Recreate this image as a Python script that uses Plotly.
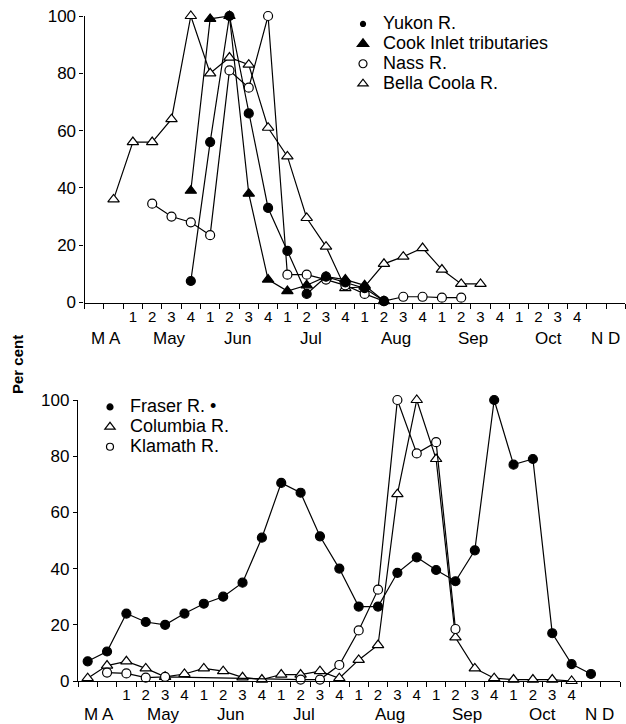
import plotly.graph_objects as go

# weekly bins: Mar, Apr, May 1-4 ... Oct 1-4, Nov, Dec
WEEKS = ["Mar", "Apr"] + [f"{m}{w}" for m in ["May", "Jun", "Jul", "Aug", "Sep", "Oct"] for w in (1, 2, 3, 4)] + ["Nov", "Dec"]
WEEK_TICKS = ["", ""] + ["1", "2", "3", "4"] * 6 + ["", ""]
MONTHS = ["M A", "May", "Jun", "Jul", "Aug", "Sep", "Oct", "N D"]
N = None

# upper panel (per cent of peak weekly catch)
yukon = [N, N, N, N, N, 7.5, 56, 100, 66, 33, 18, 3, 9, 7, 5, 0.5, N, N, N, N, N, N, N, N, N, N, N, N]
cook = [N, N, N, N, N, 39, 99, 100, 38, 8, 4, 6, 9, 8, 6, 0.5, N, N, N, N, N, N, N, N, N, N, N, N]
nass = [N, N, N, 34.5, 30, 28, 23.5, 81, 75, 100, 9.7, 9.7, 8, 6, 3, 0.5, 2, 2, 1.7, 1.7, N, N, N, N, N, N, N, N]
bella = [N, 36, 56, 56, 64, 100, 80, 85.5, 83, 61, 51, 29.5, 19.5, 5, 5.5, 13.5, 16, 19, 11.5, 6.5, 6.5, N, N, N, N, N, N, N]

# lower panel
fraser = [7, 10.5, 24, 21, 20, 24, 27.5, 30, 35, 51, 70.5, 67, 51.5, 40, 26.5, 26.5, 38.5, 44, 39.5, 35.5, 46.5, 100, 77, 79, 17, 6, 2.5, N]
columbia = [1, 5.5, 7, 4.5, 1.5, 2.5, 4.5, 3.5, 1.3, 0.5, 2.3, 2.3, 3.5, 1, 7.5, 12.8, 66.5, 100, 79, 15.5, 4.5, 1, 0.5, 0.5, 0.5, 0, N, N]
klamath = [N, 3, 2.7, 1.2, 1.5, N, N, N, N, N, N, 0.5, 0.5, 5.7, 18, 32.5, 100, 81, 85, 18.5, N, N, N, N, N, N, N, N]

centers = [i + 0.5 for i in range(len(WEEKS))]
month_pos = [1.1, 4.4, 7.9, 11.7, 16.1, 20.1, 24.0, 26.95]

FONT = "Liberation Sans, Arial, sans-serif"
W, H = 626, 724

fig = go.Figure()


def add_series(vals, symbol, fill, size, name, rank, xa, ya, leg, leg_size):
    fig.add_trace(go.Scatter(
        x=centers, y=vals, mode="lines+markers", connectgaps=True,
        line=dict(color="black", width=1.2),
        marker=dict(symbol=symbol, size=size, color=fill, line=dict(color="black", width=1.2)),
        xaxis=xa, yaxis=ya, showlegend=False, cliponaxis=False, hoverinfo="skip",
    ))
    # legend key: marker only; big text on a tight row pitch
    fig.add_trace(go.Scatter(
        x=[None], y=[None], mode="markers", legend=leg, legendrank=rank,
        name=f"<span style='font-size:18px'>{name}</span>",
        marker=dict(symbol=symbol, size=leg_size, color=fill, line=dict(color="black", width=1.2)),
        xaxis=xa, yaxis=ya,
    ))


# draw order so that filled markers sit on top
add_series(bella, "triangle-up", "white", 10, "Bella Coola R.", 4, "x", "y", "legend", 9)
add_series(nass, "circle", "white", 9, "Nass R.", 3, "x", "y", "legend", 8)
add_series(cook, "triangle-up", "black", 10, "Cook Inlet tributaries", 2, "x", "y", "legend", 10)
add_series(yukon, "circle", "black", 9, "Yukon R.", 1, "x", "y", "legend", 5)

add_series(columbia, "triangle-up", "white", 10, "Columbia R.", 2, "x2", "y2", "legend2", 9)
add_series(klamath, "circle", "white", 9, "Klamath R.", 3, "x2", "y2", "legend2", 7)
add_series(fraser, "circle", "black", 9, "Fraser R. •", 1, "x2", "y2", "legend2", 6)


def xaxis(domain, anchor):
    return dict(
        domain=domain, anchor=anchor, range=[0, 28], showgrid=False, zeroline=False,
        showline=True, linecolor="black", linewidth=1.3,
        tickmode="array", tickvals=centers, ticktext=WEEK_TICKS, ticks="",
        tickfont=dict(size=15, color="black", family=FONT),
        minor=dict(tickmode="array", tickvals=list(range(29)), ticks="outside",
                   ticklen=5, tickwidth=1.2, tickcolor="black"),
    )


def yaxis(domain, anchor):
    return dict(
        domain=domain, anchor=anchor, range=[0, 100], showgrid=False, zeroline=False,
        showline=True, linecolor="black", linewidth=1.3,
        tickvals=[0, 20, 40, 60, 80, 100], ticks="outside", ticklen=4, tickwidth=1.2,
        tickcolor="black", tickfont=dict(size=17, color="black", family=FONT),
    )


fig.update_layout(
    width=W, height=H,
    margin=dict(l=0, r=0, t=0, b=0, autoexpand=False),
    plot_bgcolor="white", paper_bgcolor="white",
    font=dict(family=FONT, color="black"),
    hovermode=False,
    xaxis=xaxis([84.6 / W, 0.999], "y"),
    yaxis=yaxis([1 - 302.5 / H, 1 - 16 / H], "x"),
    xaxis2=xaxis([78 / W, 620 / W], "y2"),
    yaxis2=yaxis([1 - 681 / H, 1 - 400 / H], "x2"),
    legend=dict(x=343 / W, y=1 - 9 / H, xanchor="left", yanchor="top", traceorder="normal",
                bgcolor="rgba(0,0,0,0)", font=dict(size=13, family=FONT), tracegroupgap=0),
    legend2=dict(x=90 / W, y=1 - 392 / H, xanchor="left", yanchor="top", traceorder="normal",
                 bgcolor="rgba(0,0,0,0)", font=dict(size=13, family=FONT), tracegroupgap=0),
)

# month names under the week numbers
for pos, label in zip(month_pos, MONTHS):
    fig.add_annotation(x=pos, y=1 - 338 / H, xref="x", yref="paper", text=label,
                       yanchor="middle", showarrow=False, font=dict(size=17, family=FONT))
    fig.add_annotation(x=pos, y=1 - 714 / H, xref="x2", yref="paper", text=label,
                       yanchor="middle", showarrow=False, font=dict(size=17, family=FONT))

fig.add_annotation(x=17 / W, y=1 - 365 / H, xref="paper", yref="paper", text="<b>Per cent</b>",
                   xanchor="center", yanchor="middle",
                   textangle=-90, showarrow=False, font=dict(size=15, family=FONT))

# page body has a default 8px margin; drop it so the figure fills the window
fig.write_html("out.html", config={"displayModeBar": False},
               post_script="document.body.style.margin='0';")
